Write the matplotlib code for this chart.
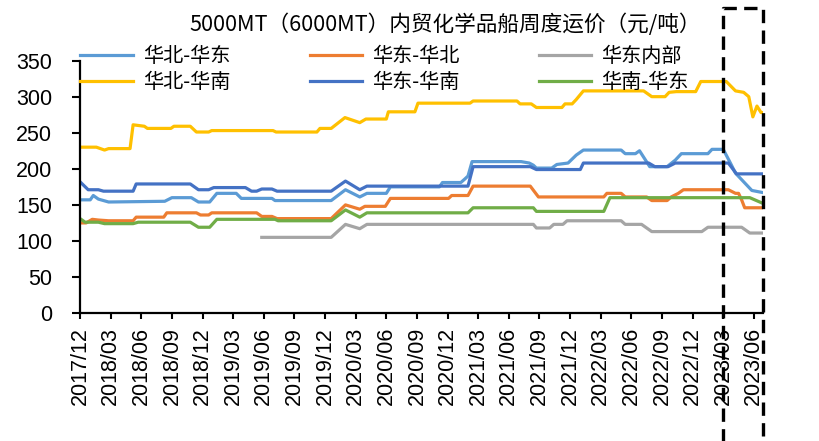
import numpy as np
import matplotlib
matplotlib.use('Agg')
import matplotlib.pyplot as plt
import matplotlib.transforms as mtransforms

plt.rcParams['font.family'] = ['Liberation Sans', 'DejaVu Sans']
cjk = ['Noto Sans CJK SC', 'DejaVu Sans']

# 横轴: 自2017/12起的月数 (周度数据的拐点)
# 华北-华东
hb_hd_m = [0, 1.0, 1.3, 1.8, 2.8, 8.3, 9.0, 10.9, 11.6, 12.7, 13.4, 15.3, 15.8, 18.8, 19.1,
           24.6, 26.0, 27.4, 28.1, 30.0, 30.4, 35.2, 35.5, 37.3, 37.7, 38.0, 38.4, 43.2, 44.0,
           44.4, 44.7, 46.2, 46.7, 47.8, 48.6, 49.3, 53.0, 53.4, 54.4, 54.8, 55.8, 57.5, 58.3,
           58.9, 61.5, 61.9, 63.0, 63.7, 64.2, 65.0, 65.8, 66.9]
hb_hd_v = [157, 157, 163, 158, 154, 155, 160, 160, 154, 154, 166, 166, 159, 159, 156,
           156, 171, 161, 166, 166, 175, 175, 181, 181, 186, 190, 210, 210, 208,
           205, 201, 201, 206, 208, 219, 226, 226, 221, 221, 225, 203, 203, 212,
           221, 221, 227, 227, 208, 194, 182, 170, 167]

# 华东-华北
hd_hb_m = [0, 0.6, 1.2, 1.8, 2.8, 5.2, 5.5, 8.2, 8.5, 11.4, 11.8, 12.6, 12.9, 17.3, 17.8,
           18.8, 19.3, 24.6, 26.0, 27.4, 27.9, 29.9, 30.4, 36.1, 36.4, 38.0, 38.5, 44.1, 44.9,
           51.3, 51.6, 53.0, 53.4, 55.5, 56.0, 57.5, 57.9, 58.6, 59.1, 63.5, 64.2, 64.5,
           64.8, 65.1, 66.9]
hd_hb_v = [125, 125, 130, 129, 128, 128, 133, 133, 139, 139, 136, 136, 139, 139, 134,
           134, 131, 131, 150, 144, 148, 148, 159, 159, 163, 163, 176, 176, 161,
           161, 166, 166, 161, 161, 156, 156, 161, 166, 171, 171, 166, 166,
           157, 146, 146]

# 华东内部 (2019/06起)
hd_nb_m = [17.8, 24.6, 26.0, 27.4, 28.1, 44.4, 44.7, 46.0, 46.4, 47.3, 47.7, 53.0, 53.4,
           55.0, 56.0, 60.9, 61.5, 64.8, 65.6, 66.9]
hd_nb_v = [105, 105, 123, 117, 123, 123, 118, 118, 123, 123, 128, 128, 123,
           123, 113, 113, 119, 119, 111, 111]

# 华北-华南
hb_hn_m = [0, 1.6, 2.4, 2.8, 4.9, 5.2, 6.3, 6.6, 8.9, 9.2, 10.8, 11.4, 12.6, 12.9, 18.9,
           19.2, 23.2, 23.5, 24.6, 25.95, 27.4, 28.0, 30.0, 30.2, 32.8, 33.1, 38.2, 38.5,
           42.8, 43.1, 44.2, 44.7, 47.2, 47.5, 48.2, 48.6, 49.3, 55.2, 56.0, 57.3, 57.7,
           58.4, 60.3, 60.8, 63.3, 64.2, 65.0, 65.5, 65.9, 66.3, 66.7, 66.9]
hb_hn_v = [230, 230, 226, 228, 228, 261, 259, 256, 256, 259, 259, 251, 251, 253, 253,
           251, 251, 256, 256, 271, 264, 269, 269, 279, 279, 291, 291, 294,
           294, 290, 290, 285, 285, 290, 290, 296, 308, 308, 300, 300, 306,
           307, 307, 321, 321, 308, 306, 300, 272, 287, 278, 278]

# 华东-华南
hd_hn_m = [0, 0.8, 1.8, 2.3, 5.2, 5.5, 10.8, 11.6, 12.6, 13.1, 16.2, 16.8, 17.3, 17.8,
           18.8, 19.3, 24.6, 26.0, 27.4, 28.1, 38.0, 38.5, 44.1, 44.7, 49.0, 49.3, 55.7,
           56.3, 57.6, 58.3, 63.5, 64.3, 66.9]
hd_hn_v = [182, 171, 171, 169, 169, 179, 179, 171, 171, 174, 174, 169, 169, 172,
           172, 169, 169, 183, 171, 176, 176, 203, 203, 199, 199, 208, 208,
           203, 203, 208, 208, 193, 193]

# 华南-华东
hn_hd_m = [0, 0.5, 1.8, 2.4, 5.2, 5.7, 10.8, 11.6, 12.7, 13.4, 19.1, 19.4, 24.6, 26.0,
           27.4, 28.1, 38.0, 38.5, 44.4, 44.7, 51.3, 51.9, 65.6, 66.9]
hn_hd_v = [131, 126, 126, 124, 124, 126, 126, 119, 119, 130, 130, 128, 128, 143,
           133, 139, 139, 146, 146, 141, 141, 160, 160, 152]

tick_pos = list(range(0, 67, 3))
tick_labels = ['2017/12', '2018/03', '2018/06', '2018/09', '2018/12', '2019/03',
               '2019/06', '2019/09', '2019/12', '2020/03', '2020/06', '2020/09',
               '2020/12', '2021/03', '2021/06', '2021/09', '2021/12', '2022/03',
               '2022/06', '2022/09', '2022/12', '2023/03', '2023/06']

# 近期区间 (虚线框)
hl_start = 63
x_end = 66.9

fig = plt.figure(figsize=(8.19, 4.41), dpi=100)
ax = fig.add_axes([0.0977, 0.29, 0.834, 0.5726])

lw = 2.3
l1, = ax.plot(hb_hd_m, hb_hd_v, color='#5B9BD5', lw=lw, label='华北-华东')
l2, = ax.plot(hd_hb_m, hd_hb_v, color='#ED7D31', lw=lw, label='华东-华北')
l3, = ax.plot(hd_nb_m, hd_nb_v, color='#A5A5A5', lw=lw, label='华东内部')
l4, = ax.plot(hb_hn_m, hb_hn_v, color='#FFC000', lw=lw, label='华北-华南')
l5, = ax.plot(hd_hn_m, hd_hn_v, color='#4472C4', lw=lw, label='华东-华南')
l6, = ax.plot(hn_hd_m, hn_hd_v, color='#70AD47', lw=lw, label='华南-华东')

ax.set_xlim(0, x_end)
ax.set_ylim(0, 350)
ax.set_yticks(range(0, 351, 50))
ax.set_xticks(tick_pos)
ax.set_xticklabels(tick_labels, rotation=90, fontsize=15.5)
ax.tick_params(axis='y', labelsize=15.5, length=6, width=1.5, pad=14)
ax.tick_params(axis='x', length=4, width=1.5, pad=6)
for s in ['top', 'right']:
    ax.spines[s].set_visible(False)
for s in ['left', 'bottom']:
    ax.spines[s].set_linewidth(1.6)

# 图例: 两行三列
fig.legend([l1, l4, l2, l5, l3, l6],
           ['华北-华东', '华北-华南', '华东-华北', '华东-华南', '华东内部', '华南-华东'],
           ncol=3, loc='upper left', bbox_to_anchor=(0.098, 0.895), frameon=False,
           prop={'family': cjk, 'size': 14.5}, handlelength=2.6, handletextpad=0.5,
           columnspacing=3.95, labelspacing=0.25, borderpad=0, borderaxespad=0)

fig.text(0.543, 0.943, '5000MT（6000MT）内贸化学品船周度运价（元/吨）',
         ha='center', va='center', fontsize=15.6, family=cjk)

# 虚线框: 横向用数据坐标, 纵向用画布坐标
trans = mtransforms.blended_transform_factory(ax.transData, fig.transFigure)
ax.plot([hl_start, hl_start, x_end, x_end], [-0.05, 0.981, 0.981, -0.05],
        transform=trans, color='black', lw=2.4, ls=(0, (4, 2.2)), clip_on=False)

fig.savefig('out.png', dpi=100)
